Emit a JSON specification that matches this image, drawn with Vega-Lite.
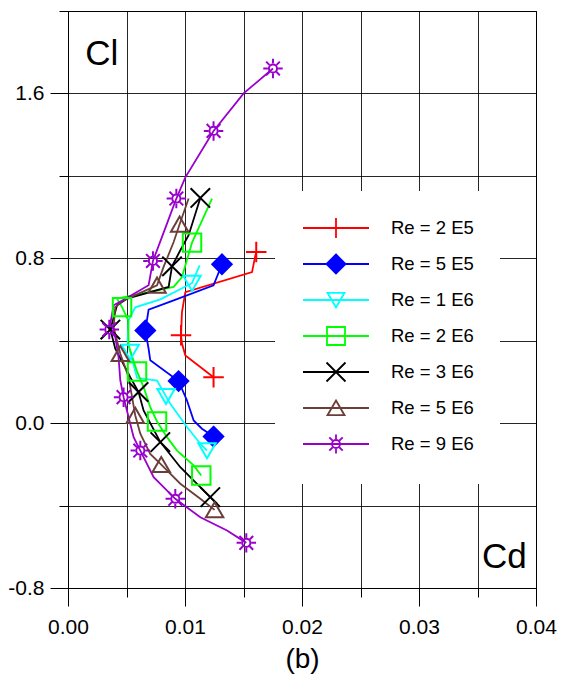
{
  "$schema": "https://vega.github.io/schema/vega-lite/v6.json",
  "width": 468,
  "height": 577,
  "autosize": {"type": "none"},
  "padding": {"left": 68, "top": 11, "right": 26, "bottom": 94},
  "background": "white",
  "config": {
    "font": "Liberation Sans",
    "view": {"stroke": "#000", "strokeWidth": 1},
    "axis": {
      "domainColor": "#000", "tickColor": "#000", "gridColor": "#000", "gridOpacity": 0.85,
      "labelColor": "#000", "titleColor": "#000", "labelFont": "Liberation Sans", "labelFontSize": 21,
      "titleFont": "Liberation Sans", "titleFontWeight": "normal", "labelOverlap": false, "labelFlush": false
    },
    "legend": {
      "orient": "none", "legendX": 207, "legendY": 180, "fillColor": "white", "padding": 26,
      "labelFont": "Liberation Sans", "labelFontSize": 18.5, "labelColor": "#000",
      "symbolSize": 400, "symbolStrokeWidth": 1.8, "symbolOffset": 24, "labelOffset": 44,
      "rowPadding": 8, "gridAlign": "all", "labelLimit": 300, "symbolOpacity": 1
    }
  },
  "resolve": {
    "scale": {"stroke": "independent", "fill": "independent", "shape": "independent"},
    "legend": {"stroke": "independent", "fill": "independent", "shape": "independent"}
  },
  "datasets": {
    "lines": [
      {"Re": "Re = 2 E5", "Cd": 0.01609, "Cl": 0.83},
      {"Re": "Re = 2 E5", "Cd": 0.0160, "Cl": 0.81},
      {"Re": "Re = 2 E5", "Cd": 0.01573, "Cl": 0.733},
      {"Re": "Re = 2 E5", "Cd": 0.01003, "Cl": 0.636},
      {"Re": "Re = 2 E5", "Cd": 0.00974, "Cl": 0.539},
      {"Re": "Re = 2 E5", "Cd": 0.00966, "Cl": 0.426},
      {"Re": "Re = 2 E5", "Cd": 0.00974, "Cl": 0.386},
      {"Re": "Re = 2 E5", "Cd": 0.01003, "Cl": 0.329},
      {"Re": "Re = 2 E5", "Cd": 0.01244, "Cl": 0.223},

      {"Re": "Re = 5 E5", "Cd": 0.01316, "Cl": 0.771},
      {"Re": "Re = 5 E5", "Cd": 0.01244, "Cl": 0.669},
      {"Re": "Re = 5 E5", "Cd": 0.00903, "Cl": 0.596},
      {"Re": "Re = 5 E5", "Cd": 0.00689, "Cl": 0.551},
      {"Re": "Re = 5 E5", "Cd": 0.00661, "Cl": 0.45},
      {"Re": "Re = 5 E5", "Cd": 0.00689, "Cl": 0.361},
      {"Re": "Re = 5 E5", "Cd": 0.00703, "Cl": 0.305},
      {"Re": "Re = 5 E5", "Cd": 0.00945, "Cl": 0.204},
      {"Re": "Re = 5 E5", "Cd": 0.01017, "Cl": 0.11},
      {"Re": "Re = 5 E5", "Cd": 0.01074, "Cl": 0.013},
      {"Re": "Re = 5 E5", "Cd": 0.01145, "Cl": -0.027},
      {"Re": "Re = 5 E5", "Cd": 0.01244, "Cl": -0.065},

      {"Re": "Re = 1 E6", "Cd": 0.01125, "Cl": 0.766},
      {"Re": "Re = 1 E6", "Cd": 0.0106, "Cl": 0.679},
      {"Re": "Re = 1 E6", "Cd": 0.00789, "Cl": 0.601},
      {"Re": "Re = 1 E6", "Cd": 0.00575, "Cl": 0.562},
      {"Re": "Re = 1 E6", "Cd": 0.00518, "Cl": 0.499},
      {"Re": "Re = 1 E6", "Cd": 0.00509, "Cl": 0.402},
      {"Re": "Re = 1 E6", "Cd": 0.00532, "Cl": 0.345},
      {"Re": "Re = 1 E6", "Cd": 0.0059, "Cl": 0.22},
      {"Re": "Re = 1 E6", "Cd": 0.00761, "Cl": 0.207},
      {"Re": "Re = 1 E6", "Cd": 0.00838, "Cl": 0.13},
      {"Re": "Re = 1 E6", "Cd": 0.00874, "Cl": 0.094},
      {"Re": "Re = 1 E6", "Cd": 0.01017, "Cl": -0.019},
      {"Re": "Re = 1 E6", "Cd": 0.01131, "Cl": -0.1},
      {"Re": "Re = 1 E6", "Cd": 0.01188, "Cl": -0.133},

      {"Re": "Re = 2 E6", "Cd": 0.01231, "Cl": 1.09},
      {"Re": "Re = 2 E6", "Cd": 0.0106, "Cl": 0.876},
      {"Re": "Re = 2 E6", "Cd": 0.00974, "Cl": 0.709},
      {"Re": "Re = 2 E6", "Cd": 0.00903, "Cl": 0.661},
      {"Re": "Re = 2 E6", "Cd": 0.00419, "Cl": 0.604},
      {"Re": "Re = 2 E6", "Cd": 0.00462, "Cl": 0.563},
      {"Re": "Re = 2 E6", "Cd": 0.00515, "Cl": 0.499},
      {"Re": "Re = 2 E6", "Cd": 0.00518, "Cl": 0.377},
      {"Re": "Re = 2 E6", "Cd": 0.0059, "Cl": 0.251},
      {"Re": "Re = 2 E6", "Cd": 0.00646, "Cl": 0.175},
      {"Re": "Re = 2 E6", "Cd": 0.00703, "Cl": 0.078},
      {"Re": "Re = 2 E6", "Cd": 0.00761, "Cl": 0.008},
      {"Re": "Re = 2 E6", "Cd": 0.00846, "Cl": -0.068},
      {"Re": "Re = 2 E6", "Cd": 0.00932, "Cl": -0.133},
      {"Re": "Re = 2 E6", "Cd": 0.01074, "Cl": -0.205},
      {"Re": "Re = 2 E6", "Cd": 0.01139, "Cl": -0.254},

      {"Re": "Re = 3 E6", "Cd": 0.01131, "Cl": 1.093},
      {"Re": "Re = 3 E6", "Cd": 0.01031, "Cl": 0.912},
      {"Re": "Re = 3 E6", "Cd": 0.0096, "Cl": 0.839},
      {"Re": "Re = 3 E6", "Cd": 0.00889, "Cl": 0.761},
      {"Re": "Re = 3 E6", "Cd": 0.0086, "Cl": 0.661},
      {"Re": "Re = 3 E6", "Cd": 0.00504, "Cl": 0.604},
      {"Re": "Re = 3 E6", "Cd": 0.00419, "Cl": 0.572},
      {"Re": "Re = 3 E6", "Cd": 0.00362, "Cl": 0.454},
      {"Re": "Re = 3 E6", "Cd": 0.00404, "Cl": 0.361},
      {"Re": "Re = 3 E6", "Cd": 0.00532, "Cl": 0.223},
      {"Re": "Re = 3 E6", "Cd": 0.00603, "Cl": 0.151},
      {"Re": "Re = 3 E6", "Cd": 0.00646, "Cl": 0.062},
      {"Re": "Re = 3 E6", "Cd": 0.00789, "Cl": -0.092},
      {"Re": "Re = 3 E6", "Cd": 0.0096, "Cl": -0.214},
      {"Re": "Re = 3 E6", "Cd": 0.01216, "Cl": -0.359},
      {"Re": "Re = 3 E6", "Cd": 0.01274, "Cl": -0.391},

      {"Re": "Re = 5 E6", "Cd": 0.01031, "Cl": 1.09},
      {"Re": "Re = 5 E6", "Cd": 0.00954, "Cl": 0.965},
      {"Re": "Re = 5 E6", "Cd": 0.00903, "Cl": 0.879},
      {"Re": "Re = 5 E6", "Cd": 0.00817, "Cl": 0.758},
      {"Re": "Re = 5 E6", "Cd": 0.00761, "Cl": 0.669},
      {"Re": "Re = 5 E6", "Cd": 0.00475, "Cl": 0.596},
      {"Re": "Re = 5 E6", "Cd": 0.00404, "Cl": 0.563},
      {"Re": "Re = 5 E6", "Cd": 0.0039, "Cl": 0.466},
      {"Re": "Re = 5 E6", "Cd": 0.00447, "Cl": 0.337},
      {"Re": "Re = 5 E6", "Cd": 0.00518, "Cl": 0.223},
      {"Re": "Re = 5 E6", "Cd": 0.00575, "Cl": 0.037},
      {"Re": "Re = 5 E6", "Cd": 0.00618, "Cl": -0.051},
      {"Re": "Re = 5 E6", "Cd": 0.00703, "Cl": -0.149},
      {"Re": "Re = 5 E6", "Cd": 0.00797, "Cl": -0.201},
      {"Re": "Re = 5 E6", "Cd": 0.0096, "Cl": -0.294},
      {"Re": "Re = 5 E6", "Cd": 0.01131, "Cl": -0.367},
      {"Re": "Re = 5 E6", "Cd": 0.01253, "Cl": -0.421},

      {"Re": "Re = 9 E6", "Cd": 0.01752, "Cl": 1.721},
      {"Re": "Re = 9 E6", "Cd": 0.01501, "Cl": 1.6},
      {"Re": "Re = 9 E6", "Cd": 0.01244, "Cl": 1.418},
      {"Re": "Re = 9 E6", "Cd": 0.01003, "Cl": 1.193},
      {"Re": "Re = 9 E6", "Cd": 0.00926, "Cl": 1.09},
      {"Re": "Re = 9 E6", "Cd": 0.00846, "Cl": 0.968},
      {"Re": "Re = 9 E6", "Cd": 0.00726, "Cl": 0.787},
      {"Re": "Re = 9 E6", "Cd": 0.00689, "Cl": 0.669},
      {"Re": "Re = 9 E6", "Cd": 0.0049, "Cl": 0.604},
      {"Re": "Re = 9 E6", "Cd": 0.0039, "Cl": 0.572},
      {"Re": "Re = 9 E6", "Cd": 0.00353, "Cl": 0.454},
      {"Re": "Re = 9 E6", "Cd": 0.00404, "Cl": 0.418},
      {"Re": "Re = 9 E6", "Cd": 0.00432, "Cl": 0.321},
      {"Re": "Re = 9 E6", "Cd": 0.00447, "Cl": 0.207},
      {"Re": "Re = 9 E6", "Cd": 0.00475, "Cl": 0.126},
      {"Re": "Re = 9 E6", "Cd": 0.00518, "Cl": 0.029},
      {"Re": "Re = 9 E6", "Cd": 0.00561, "Cl": -0.068},
      {"Re": "Re = 9 E6", "Cd": 0.00618, "Cl": -0.133},
      {"Re": "Re = 9 E6", "Cd": 0.00732, "Cl": -0.262},
      {"Re": "Re = 9 E6", "Cd": 0.00917, "Cl": -0.367},
      {"Re": "Re = 9 E6", "Cd": 0.01131, "Cl": -0.457},
      {"Re": "Re = 9 E6", "Cd": 0.01359, "Cl": -0.521},
      {"Re": "Re = 9 E6", "Cd": 0.01524, "Cl": -0.581}
    ],
    "markers": [
      {"Re": "Re = 2 E5", "Cd": 0.01609, "Cl": 0.83},
      {"Re": "Re = 2 E5", "Cd": 0.00966, "Cl": 0.426},
      {"Re": "Re = 2 E5", "Cd": 0.01244, "Cl": 0.223},
      {"Re": "Re = 5 E5", "Cd": 0.01316, "Cl": 0.771},
      {"Re": "Re = 5 E5", "Cd": 0.00661, "Cl": 0.45},
      {"Re": "Re = 5 E5", "Cd": 0.00945, "Cl": 0.204},
      {"Re": "Re = 5 E5", "Cd": 0.01244, "Cl": -0.065},
      {"Re": "Re = 1 E6", "Cd": 0.0106, "Cl": 0.679},
      {"Re": "Re = 1 E6", "Cd": 0.00532, "Cl": 0.345},
      {"Re": "Re = 1 E6", "Cd": 0.00838, "Cl": 0.13},
      {"Re": "Re = 1 E6", "Cd": 0.01188, "Cl": -0.133},
      {"Re": "Re = 2 E6", "Cd": 0.0106, "Cl": 0.876},
      {"Re": "Re = 2 E6", "Cd": 0.00462, "Cl": 0.563},
      {"Re": "Re = 2 E6", "Cd": 0.0059, "Cl": 0.251},
      {"Re": "Re = 2 E6", "Cd": 0.00761, "Cl": 0.008},
      {"Re": "Re = 2 E6", "Cd": 0.01139, "Cl": -0.254},
      {"Re": "Re = 3 E6", "Cd": 0.01131, "Cl": 1.093},
      {"Re": "Re = 3 E6", "Cd": 0.00889, "Cl": 0.761},
      {"Re": "Re = 3 E6", "Cd": 0.00362, "Cl": 0.454},
      {"Re": "Re = 3 E6", "Cd": 0.00603, "Cl": 0.151},
      {"Re": "Re = 3 E6", "Cd": 0.00789, "Cl": -0.092},
      {"Re": "Re = 3 E6", "Cd": 0.01216, "Cl": -0.359},
      {"Re": "Re = 5 E6", "Cd": 0.00954, "Cl": 0.965},
      {"Re": "Re = 5 E6", "Cd": 0.00761, "Cl": 0.669},
      {"Re": "Re = 5 E6", "Cd": 0.00447, "Cl": 0.337},
      {"Re": "Re = 5 E6", "Cd": 0.00575, "Cl": 0.037},
      {"Re": "Re = 5 E6", "Cd": 0.00797, "Cl": -0.201},
      {"Re": "Re = 5 E6", "Cd": 0.01253, "Cl": -0.421},
      {"Re": "Re = 9 E6", "Cd": 0.01752, "Cl": 1.721},
      {"Re": "Re = 9 E6", "Cd": 0.01244, "Cl": 1.418},
      {"Re": "Re = 9 E6", "Cd": 0.00926, "Cl": 1.09},
      {"Re": "Re = 9 E6", "Cd": 0.00726, "Cl": 0.787},
      {"Re": "Re = 9 E6", "Cd": 0.00353, "Cl": 0.454},
      {"Re": "Re = 9 E6", "Cd": 0.00475, "Cl": 0.126},
      {"Re": "Re = 9 E6", "Cd": 0.00618, "Cl": -0.133},
      {"Re": "Re = 9 E6", "Cd": 0.00917, "Cl": -0.367},
      {"Re": "Re = 9 E6", "Cd": 0.01524, "Cl": -0.581}
    ],
    "labels": [
      {"t": "Cl", "Cd": 0.00148, "Cl": 1.737},
      {"t": "Cd", "Cd": 0.03538, "Cl": -0.702}
    ]
  },
  "encoding": {
    "x": {
      "field": "Cd", "type": "quantitative",
      "scale": {"domain": [0, 0.04], "nice": false, "zero": false},
      "axis": {
        "values": [0, 0.005, 0.01, 0.015, 0.02, 0.025, 0.03, 0.035, 0.04],
        "labelExpr": "abs(datum.value*100-round(datum.value*100))<1e-6 ? format(datum.value,'.2f') : ''",
        "tickSize": {"condition": {"test": "abs(datum.value*100-round(datum.value*100))<1e-6", "value": 18}, "value": 9},
        "labelPadding": 10,
        "title": "(b)", "titleFontSize": 28, "titlePadding": 8
      }
    },
    "y": {
      "field": "Cl", "type": "quantitative",
      "scale": {"domain": [-0.8, 2.0], "nice": false, "zero": false},
      "axis": {
        "values": [-0.8, -0.4, 0, 0.4, 0.8, 1.2, 1.6, 2.0],
        "labelExpr": "abs(datum.value/0.8-round(datum.value/0.8))<1e-6 ? (datum.value < 0 ? '-' + format(-datum.value,'.1f') : format(datum.value,'.1f')) : ''",
        "tickSize": {"condition": {"test": "abs(datum.value/0.8-round(datum.value/0.8))<1e-6", "value": 18}, "value": 9},
        "labelPadding": 6,
        "title": null
      }
    }
  },
  "layer": [
    {
      "data": {"name": "lines"},
      "mark": {"type": "line", "strokeWidth": 1.8},
      "encoding": {
        "stroke": {
          "field": "Re", "type": "nominal",
          "scale": {
            "domain": ["Re = 2 E5", "Re = 5 E5", "Re = 1 E6", "Re = 2 E6", "Re = 3 E6", "Re = 5 E6", "Re = 9 E6"],
            "range": ["#ff0000", "#0000ff", "#00ffff", "#00ff00", "#000000", "#6b3e3a", "#9900cc"]
          },
          "legend": null
        },
        "order": {"field": "Cl", "type": "quantitative"}
      }
    },
    {
      "data": {"name": "markers"},
      "mark": {"type": "point", "filled": false, "opacity": 1, "size": 420, "strokeWidth": 2},
      "encoding": {
        "stroke": {
          "field": "Re", "type": "nominal",
          "scale": {
            "domain": ["Re = 2 E5", "Re = 5 E5", "Re = 1 E6", "Re = 2 E6", "Re = 3 E6", "Re = 5 E6", "Re = 9 E6"],
            "range": ["#ff0000", "#0000ff", "#00ffff", "#00ff00", "#000000", "#6b3e3a", "#9900cc"]
          },
          "legend": null
        },
        "fill": {
          "field": "Re", "type": "nominal",
          "scale": {
            "domain": ["Re = 2 E5", "Re = 5 E5", "Re = 1 E6", "Re = 2 E6", "Re = 3 E6", "Re = 5 E6", "Re = 9 E6"],
            "range": ["transparent", "#0000ff", "transparent", "transparent", "transparent", "transparent", "transparent"]
          },
          "legend": null
        },
        "shape": {
          "field": "Re", "type": "nominal",
          "scale": {
            "domain": ["Re = 2 E5", "Re = 5 E5", "Re = 1 E6", "Re = 2 E6", "Re = 3 E6", "Re = 5 E6", "Re = 9 E6"],
            "range": [
              "M-1,0H1M0,-1V1",
              "M0,-0.95L0.95,0L0,0.95L-0.95,0Z",
              "M-0.85,-0.72L0.85,-0.72L0,0.75Z",
              "M-0.9,-0.9H0.9V0.9H-0.9Z",
              "M-0.95,-0.95L0.95,0.95M-0.95,0.95L0.95,-0.95",
              "M0,-0.75L0.85,0.72L-0.85,0.72Z",
              "M0.4,0A0.4,0.4,0,1,1,-0.4,0A0.4,0.4,0,1,1,0.4,0M0,-0.5V-0.95M0,0.5V0.95M-0.5,0H-0.95M0.5,0H0.95M0.35,0.35L0.67,0.67M-0.35,-0.35L-0.67,-0.67M0.35,-0.35L0.67,-0.67M-0.35,0.35L-0.67,0.67"
            ]
          },
          "legend": null
        }
      }
    },
    {
      "data": {"name": "markers"},
      "mark": {"type": "point", "filled": false, "opacity": 0, "size": 400, "strokeWidth": 1.8},
      "encoding": {
        "stroke": {
          "field": "Re", "type": "nominal",
          "scale": {
            "domain": ["Re = 2 E5", "Re = 5 E5", "Re = 1 E6", "Re = 2 E6", "Re = 3 E6", "Re = 5 E6", "Re = 9 E6"],
            "range": ["#ff0000", "#0000ff", "#00ffff", "#00ff00", "#000000", "#6b3e3a", "#9900cc"]
          },
          "legend": {"title": null}
        },
        "fill": {
          "field": "Re", "type": "nominal",
          "scale": {
            "domain": ["Re = 2 E5", "Re = 5 E5", "Re = 1 E6", "Re = 2 E6", "Re = 3 E6", "Re = 5 E6", "Re = 9 E6"],
            "range": ["transparent", "#0000ff", "transparent", "transparent", "transparent", "transparent", "transparent"]
          },
          "legend": {"title": null}
        },
        "shape": {
          "field": "Re", "type": "nominal",
          "scale": {
            "domain": ["Re = 2 E5", "Re = 5 E5", "Re = 1 E6", "Re = 2 E6", "Re = 3 E6", "Re = 5 E6", "Re = 9 E6"],
            "range": [
              "M-3.3,0H3.3M-1,0H1M0,-1V1",
              "M-3.3,0H3.3M0,-0.95L0.95,0L0,0.95L-0.95,0Z",
              "M-3.3,0H3.3M-0.85,-0.72L0.85,-0.72L0,0.75Z",
              "M-3.3,0H3.3M-0.9,-0.9H0.9V0.9H-0.9Z",
              "M-3.3,0H3.3M-0.95,-0.95L0.95,0.95M-0.95,0.95L0.95,-0.95",
              "M-3.3,0H3.3M0,-0.75L0.85,0.72L-0.85,0.72Z",
              "M-3.3,0H3.3M0.4,0A0.4,0.4,0,1,1,-0.4,0A0.4,0.4,0,1,1,0.4,0M0,-0.5V-0.95M0,0.5V0.95M-0.5,0H-0.95M0.5,0H0.95M0.35,0.35L0.67,0.67M-0.35,-0.35L-0.67,-0.67M0.35,-0.35L0.67,-0.67M-0.35,0.35L-0.67,0.67"
            ]
          },
          "legend": {"title": null}
        }
      }
    },
    {
      "data": {"name": "labels"},
      "mark": {"type": "text", "fontSize": 35, "align": "left", "baseline": "alphabetic", "font": "Liberation Sans", "color": "#000"},
      "encoding": {"text": {"field": "t", "type": "nominal"}}
    }
  ]
}
